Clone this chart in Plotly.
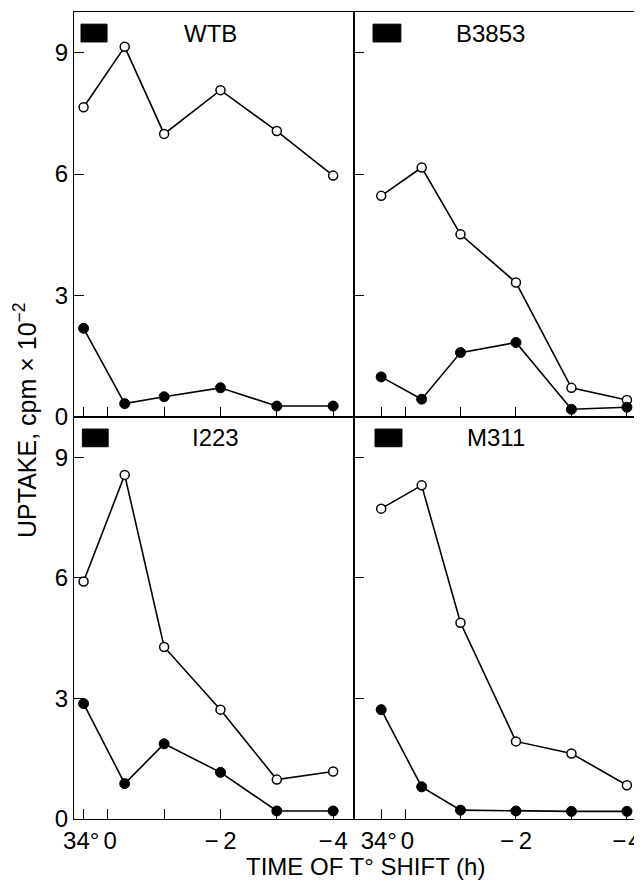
import plotly.graph_objects as go

# ---- data ----
# first slot is the 34° control, drawn left of the 0 h tick
time_positions = [0.43, -0.3, -1.0, -2.0, -3.0, -4.0]
x_tick_vals = [0.43, 0, -1, -2, -3, -4]
x_tick_text = ["34°\u2009", "\u20090", "", "−\u20092", "", "−\u200a4"]
y_tick_vals = [0, 3, 6, 9]
y_tick_text = ["0", "3", "6", "9"]

strains = ["WTB", "B3853", "I223", "M311"]
open_WTB = [7.65, 9.14, 6.99, 8.07, 7.06, 5.96]
filled_WTB = [2.19, 0.33, 0.50, 0.72, 0.27, 0.27]
open_B3853 = [5.46, 6.16, 4.51, 3.32, 0.72, 0.42]
filled_B3853 = [0.99, 0.44, 1.59, 1.84, 0.19, 0.24]
open_I223 = [5.91, 8.56, 4.28, 2.72, 0.98, 1.18]
filled_I223 = [2.87, 0.88, 1.87, 1.16, 0.20, 0.20]
open_M311 = [7.72, 8.30, 4.88, 1.93, 1.63, 0.84]
filled_M311 = [2.72, 0.80, 0.22, 0.20, 0.19, 0.19]

open_series = [open_WTB, open_B3853, open_I223, open_M311]
filled_series = [filled_WTB, filled_B3853, filled_I223, filled_M311]

FONT = "Liberation Sans, Arial, sans-serif"
OFF = 8                      # page body margin
W, H = 642 - OFF, 882 - OFF  # figure size that fits the window

fig = go.Figure()

# panel geometry (window pixels)
left_x = (74, 354)
right_x = (354, 638)
top_y = (12, 417)
bot_y = (417, 819)

def px(x):
    return (x - OFF) / W

def py(y):
    return 1 - (y - OFF) / H

def xdom(a):
    return [px(a[0]), px(a[1])]

def ydom(a):
    return [py(a[1]), py(a[0])]

panels = [
    (xdom(left_x), ydom(top_y), [0.6, -4.37], True, False),
    (xdom(right_x), ydom(top_y), [0.92, -4.2], False, False),
    (xdom(left_x), ydom(bot_y), [0.6, -4.37], True, True),
    (xdom(right_x), ydom(bot_y), [0.92, -4.2], False, True),
]

box_x = [(0.025, 0.118), (0.067, 0.165), (0.030, 0.122), (0.074, 0.169)]
label_x = [0.486, 0.482, 0.504, 0.50]

for i, (xd, yd, xr, show_y, show_x) in enumerate(panels):
    n = "" if i == 0 else str(i + 1)
    xa, ya = "x" + n, "y" + n
    fig.add_trace(go.Scatter(
        x=time_positions, y=open_series[i], mode="lines+markers",
        line=dict(color="black", width=1.6),
        marker=dict(symbol="circle", size=9, color="white",
                    line=dict(color="black", width=1.5)),
        xaxis=xa, yaxis=ya, showlegend=False, cliponaxis=False))
    fig.add_trace(go.Scatter(
        x=time_positions, y=filled_series[i], mode="lines+markers",
        line=dict(color="black", width=1.6),
        marker=dict(symbol="circle", size=10, color="black",
                    line=dict(color="black", width=1)),
        xaxis=xa, yaxis=ya, showlegend=False, cliponaxis=False))

    fig.layout["xaxis" + n] = dict(
        domain=xd, range=xr, anchor=ya, showgrid=False, zeroline=False,
        showline=True, linecolor="black", linewidth=1.4, mirror=True,
        ticks="inside", ticklen=10, tickwidth=1.3, tickcolor="black",
        tickvals=x_tick_vals, ticktext=x_tick_text, automargin=False,
        showticklabels=show_x, tickangle=0, ticklabeloverflow="allow",
        tickfont=dict(family=FONT, size=24, color="black"))
    fig.layout["yaxis" + n] = dict(
        domain=yd, range=[0, 10], anchor=xa, showgrid=False, zeroline=False,
        showline=True, linecolor="black", linewidth=1.4, mirror=True,
        ticks="inside", ticklen=10, tickwidth=1.3, tickcolor="black",
        tickvals=y_tick_vals, ticktext=y_tick_text, showticklabels=show_y,
        tickangle=0, automargin=False, ticklabeloverflow="allow",
        tickfont=dict(family=FONT, size=24, color="black"))

    fig.add_shape(type="rect", xref=xa + " domain", yref=ya + " domain",
                  x0=box_x[i][0], x1=box_x[i][1], y0=0.926, y1=0.970,
                  fillcolor="black", line=dict(color="black", width=1))
    fig.add_annotation(text=strains[i], xref=xa + " domain", yref=ya + " domain",
                       x=label_x[i], y=0.948, showarrow=False,
                       xanchor="center", yanchor="middle",
                       font=dict(family=FONT, size=24, color="black"))

fig.add_annotation(text="UPTAKE, cpm × 10<sup>−2</sup>", xref="paper", yref="paper",
                   x=px(25), y=py(420), textangle=-90, showarrow=False,
                   xanchor="center", yanchor="middle",
                   font=dict(family=FONT, size=25, color="black"))
fig.add_annotation(text="TIME OF T° SHIFT (h)", xref="paper", yref="paper",
                   x=px(365), y=py(866), showarrow=False,
                   xanchor="center", yanchor="middle",
                   font=dict(family=FONT, size=24, color="black"))

fig.update_layout(width=W, height=H, margin=dict(l=0, r=0, t=0, b=0),
                  paper_bgcolor="white", plot_bgcolor="white")

fig.write_html("out.html")
